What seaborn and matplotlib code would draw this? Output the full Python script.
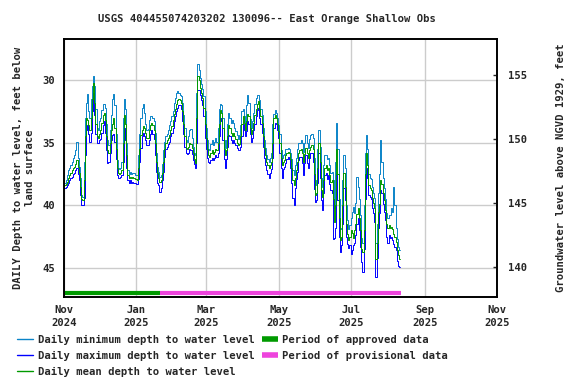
import pandas as pd
import seaborn as sns
import matplotlib.pyplot as plt
import matplotlib.dates as mdates
from matplotlib.lines import Line2D

title = "USGS 404455074203202 130096-- East Orange Shallow Obs"
start = "2024-11-01"

# daily mean depth to water, feet below land surface
mean_depth = [
    38.4, 38.4, 38.3, 38.1, 37.8, 37.6, 37.4, 37.2, 37.0, 36.9,
    36.7, 36.4, 36.9, 37.4, 38.5, 39.5, 39.6, 38.0, 34.5, 33.0,
    33.2, 33.6, 34.0, 33.0, 31.5, 30.2, 31.8, 33.5, 34.5, 34.6,
    34.3, 34.0, 33.4, 32.8, 32.6, 33.2, 34.5, 35.6, 35.8, 35.0,
    34.0, 33.5, 33.0, 33.8, 35.5, 37.0, 37.4, 37.5, 37.4, 37.2,
    35.0, 32.8, 33.5, 36.0, 37.6, 37.8, 37.7, 37.8, 37.7, 37.8,
    37.9, 37.9, 38.0, 37.0, 35.5, 34.4, 34.0, 33.7, 33.8, 34.2,
    34.6, 34.6, 34.0, 33.6, 33.4, 33.6, 34.0, 35.0, 36.5, 37.4,
    37.8, 38.1, 38.0, 37.4, 36.5, 35.5, 35.0, 34.8, 34.6, 34.4,
    34.0, 33.7, 33.2, 32.7, 32.3, 31.9, 31.6, 31.5, 31.6, 31.8,
    32.5, 33.5, 34.5, 35.4, 35.5, 35.3, 35.0, 35.1, 35.4, 35.8,
    36.3, 36.6, 33.0, 29.7, 30.0, 30.6, 31.0, 31.4, 32.2, 33.5,
    34.6, 35.5, 36.0, 36.1, 35.8, 35.6, 35.9, 35.7, 35.5, 35.6,
    35.0, 33.5, 32.4, 32.6, 33.8, 35.5, 36.0, 35.6, 34.5, 33.6,
    33.8, 34.2, 34.5, 34.2, 34.5, 34.7, 35.0, 35.2, 35.1, 34.5,
    33.5, 32.9, 33.4, 34.0, 33.3, 32.7, 32.9, 33.8, 34.3, 34.0,
    33.4, 32.8, 32.3, 31.9, 31.7, 32.3, 32.9, 33.4, 34.5, 35.4,
    36.0, 36.5, 36.8, 37.0, 36.8, 36.5, 35.0, 33.0, 32.8, 33.0,
    33.5, 34.1, 35.0, 36.2, 36.8, 36.5, 36.4, 36.0, 35.8, 35.7,
    35.8, 36.3, 37.0, 38.0, 38.4, 37.8, 37.2, 36.5, 35.8, 35.6,
    35.5, 35.8, 36.5, 35.9, 35.4, 35.8, 36.2, 35.6, 35.3, 35.2,
    35.5, 37.5, 39.2, 39.0, 37.0, 35.0, 36.5, 38.8, 39.3, 38.0,
    37.0, 36.8, 37.2, 37.0, 37.6, 38.1, 38.0, 39.5, 41.3, 40.0,
    35.5, 37.5, 41.0, 42.8, 42.5, 40.0, 37.4, 38.5, 41.5, 42.3,
    42.8, 42.5, 42.0, 42.2, 42.6, 42.0, 41.5, 40.7, 40.2, 41.0,
    42.0, 43.5, 43.7, 42.0, 37.5, 35.8, 36.8, 38.4, 38.6, 38.8,
    39.4, 39.8, 40.2, 44.3, 43.0, 40.5, 39.9, 38.0, 38.3, 39.0,
    39.6, 40.4, 41.5, 41.8, 41.6, 41.8, 41.7, 41.9, 42.3, 42.5,
    42.9, 43.6, 44.0, 44.3,
]

# daily minimum depth (shallowest reading of the day)
min_depth = [
    38.2, 38.2, 38.0, 37.6, 37.2, 37.0, 36.8, 36.5, 36.2, 36.0,
    35.6, 34.9, 36.2, 36.9, 37.8, 39.2, 39.3, 36.5, 33.0, 31.8,
    31.1, 32.5, 33.0, 31.5, 30.5, 29.7, 30.5, 32.3, 33.8, 34.0,
    33.3, 33.0, 32.4, 31.9, 31.9, 32.2, 33.5, 34.8, 35.2, 34.0,
    32.8, 31.5, 31.1, 32.0, 34.3, 36.4, 37.0, 37.1, 37.0, 36.5,
    33.0, 31.5, 32.3, 35.0, 37.2, 37.5, 37.3, 37.5, 37.4, 37.4,
    37.6, 37.6, 37.6, 36.0, 34.3, 33.0, 32.2, 31.9, 32.6, 33.5,
    34.0, 33.9, 33.2, 32.9, 32.9, 33.0, 33.3, 34.2, 35.8, 36.9,
    37.3, 37.7, 37.6, 36.7, 35.6, 34.9, 34.5, 34.3, 34.0, 33.6,
    33.3, 32.9, 32.5, 31.8, 31.4, 31.0, 30.9, 31.0, 31.2, 31.3,
    31.8, 32.8, 33.8, 34.8, 34.9, 34.5, 34.0, 33.9, 34.6, 35.3,
    35.8, 36.0, 31.0, 28.7, 29.2, 29.8, 30.3, 30.7, 31.3, 32.5,
    33.8, 34.8, 35.5, 35.6, 35.1, 34.8, 35.2, 34.9, 34.6, 34.9,
    33.8, 32.3, 31.9, 32.0, 33.0, 34.8, 35.4, 34.8, 33.5, 32.6,
    33.0, 33.4, 33.2, 33.4, 33.8, 34.1, 34.4, 34.7, 34.4, 33.6,
    32.5, 32.3, 32.9, 33.5, 32.0, 31.2, 31.8, 33.1, 33.8, 33.3,
    32.6, 31.9, 31.4, 31.2, 31.2, 31.6, 32.3, 32.8, 33.8, 34.8,
    35.4, 36.0, 36.3, 36.5, 36.2, 35.8, 33.5, 32.7, 32.4, 32.6,
    33.0, 33.6, 34.3, 35.6, 36.2, 36.0, 35.9, 35.5, 35.5, 35.4,
    35.5, 35.8, 36.3, 37.2, 37.6, 36.8, 36.2, 35.5, 35.0, 35.0,
    34.8, 35.0, 35.7, 35.0, 34.4, 35.0, 35.4, 34.7, 34.4, 34.3,
    34.6, 36.2, 38.4, 38.0, 35.5, 34.0, 35.3, 37.8, 38.5, 36.8,
    36.0, 36.0, 36.3, 36.2, 36.8, 37.4, 37.3, 38.0, 40.2, 36.5,
    33.4, 35.5, 39.5, 41.9, 41.8, 38.0, 36.0, 37.0, 40.0, 41.2,
    41.9, 41.6, 41.0, 40.5, 40.1, 40.6, 39.8, 37.7, 38.5, 39.5,
    40.8, 42.6, 43.0, 40.0, 35.8, 34.4, 35.5, 37.5, 37.8, 37.9,
    38.5, 39.0, 39.4, 43.0, 41.5, 39.0, 37.5, 34.8, 36.5, 37.8,
    38.6, 39.5, 40.6, 41.0, 40.8, 40.8, 40.2, 40.5, 38.5, 40.0,
    41.8, 42.7, 43.3, 43.6,
]

# daily maximum depth (deepest reading of the day)
max_depth = [
    38.6, 38.6, 38.5, 38.4, 38.2, 38.0, 37.8, 37.7, 37.5, 37.4,
    37.2, 37.0, 37.5, 38.0, 39.2, 40.0, 40.0, 39.4, 36.0, 34.0,
    33.6, 34.3, 34.9, 34.2, 32.5, 31.0, 32.8, 34.3, 35.0, 35.0,
    34.8, 34.7, 34.2, 33.6, 33.3, 34.2, 35.6, 36.6, 36.5, 35.8,
    34.8, 34.4, 34.3, 34.9, 36.3, 37.6, 37.8, 37.8, 37.7, 37.6,
    36.5, 33.8, 34.8, 37.0, 38.0, 38.2, 38.0, 38.2, 38.1, 38.2,
    38.2, 38.3, 38.3, 37.9, 36.5, 35.4, 34.5, 34.2, 34.5, 34.8,
    35.2, 35.2, 34.8, 34.3, 34.0, 34.3, 34.7, 36.0, 37.3, 38.2,
    38.4, 38.9, 38.6, 38.0, 37.3, 36.1, 35.5, 35.3, 35.1, 34.9,
    34.5, 34.2, 33.8, 33.3, 32.9, 32.5, 32.2, 32.0, 32.0, 32.3,
    33.3, 34.3, 35.3, 35.8, 35.9, 35.8, 35.5, 35.6, 35.9, 36.4,
    36.7, 37.0, 35.0, 30.8, 30.8, 31.2, 31.6, 32.0, 32.9, 34.6,
    35.5, 36.2, 36.5, 36.6, 36.4, 36.2, 36.4, 36.2, 36.0, 36.1,
    35.8, 34.5, 33.0, 33.3, 34.8, 36.3, 37.0, 36.3, 35.3, 34.4,
    34.5, 34.8, 35.0, 34.8, 35.0, 35.2, 35.4, 35.6, 35.6, 35.3,
    34.5, 33.5, 34.0, 34.5, 34.1, 33.3, 33.5, 34.3, 34.9, 34.6,
    34.0, 33.5, 32.9, 32.4, 32.2, 33.0, 33.5, 34.2, 35.3, 36.2,
    36.8, 37.2, 37.5, 37.8, 37.4, 37.1, 36.2, 33.8, 33.4, 33.5,
    34.0, 34.6, 35.8, 37.0, 37.8, 37.1, 36.9, 36.6, 36.3, 36.1,
    36.3, 37.0, 38.2, 39.4, 40.0, 38.6, 37.9, 37.3, 36.4, 36.1,
    36.1, 36.6, 37.6, 36.6, 36.0, 36.6, 37.0, 36.2, 35.8, 35.8,
    36.5, 38.7, 39.7, 39.6, 38.2, 35.8, 37.8, 39.6, 40.4, 39.0,
    37.6, 37.4, 37.9, 37.6, 38.3, 38.8, 39.0, 42.7, 42.6, 41.8,
    37.5, 39.6, 42.5, 43.7, 43.2, 41.5, 38.6, 39.6, 42.5, 43.1,
    43.4, 43.2, 43.9, 43.6, 43.2, 43.0, 42.4, 41.5, 41.0, 42.0,
    43.3, 44.5, 45.3, 43.5, 39.5, 37.0, 37.8, 39.2, 39.3, 39.5,
    40.2, 40.6, 41.3, 45.7, 44.2, 41.8, 40.6, 38.8, 39.0, 39.9,
    40.5, 41.2, 42.5, 43.0, 42.4, 42.6, 42.5, 42.8, 43.1, 43.3,
    43.6, 44.4, 44.8, 44.9,
]

approved_period = ("2024-11-01", "2025-01-21")
provisional_period = ("2025-01-21", "2025-08-12")

month_ticks = ["2024-11-01", "2025-01-01", "2025-03-01", "2025-05-01",
               "2025-07-01", "2025-09-01", "2025-11-01"]
depth_ticks = [30, 35, 40, 45]
level_ticks = [140, 145, 150, 155]

c_min = "#0a84c8"
c_max = "#0000ff"
c_mean = "#009a00"
c_appr = "#009a00"
c_prov = "#ee44dd"

df = pd.DataFrame({
    "date": pd.date_range(start, periods=len(mean_depth), freq="D"),
    "min": min_depth,
    "max": max_depth,
    "mean": mean_depth,
})

sns.set_style("white")
plt.rcParams["font.family"] = ["DejaVu Sans Mono"]
plt.rcParams["font.weight"] = "bold"
plt.rcParams["font.size"] = 7.6

fig = plt.figure(figsize=(5.76, 3.84), dpi=100)
ax = fig.add_axes([0.111, 0.227, 0.752, 0.671])

for col, c in [("min", c_min), ("max", c_max), ("mean", c_mean)]:
    sns.lineplot(data=df, x="date", y=col, color=c, lw=0.7, ax=ax,
                 estimator=None, drawstyle="steps-mid")

# approval status bars along the bottom
bar_y = 47.0
ax.hlines(bar_y, pd.Timestamp(approved_period[0]), pd.Timestamp(approved_period[1]),
          color=c_appr, lw=3)
ax.hlines(bar_y, pd.Timestamp(provisional_period[0]), pd.Timestamp(provisional_period[1]),
          color=c_prov, lw=3)

ax.set_xlim(pd.Timestamp(month_ticks[0]), pd.Timestamp(month_ticks[-1]))
ax.set_ylim(47.3, 26.73)
ax.set_xticks(pd.to_datetime(month_ticks))
ax.xaxis.set_major_formatter(mdates.DateFormatter("%b\n%Y"))
ax.set_yticks(depth_ticks)
ax.grid(True, color="#cccccc", lw=1)
ax.tick_params(axis="both", length=0, pad=6, labelsize=7.6)
for lab in ax.get_xticklabels():
    lab.set_linespacing(1.4)
ax.set_xlabel("")
ax.set_ylabel("DAILY Depth to water level, feet below\nland surface",
              fontsize=7.6, fontweight="bold", labelpad=6)
for s in ax.spines.values():
    s.set_color("black")
    s.set_linewidth(1.2)

ax2 = ax.twinx()
ax2.set_ylim(137.66, 157.8)
ax2.set_yticks(level_ticks)
ax2.tick_params(axis="y", direction="in", length=3, width=1, pad=8, labelsize=7.6)
ax2.set_ylabel("Groundwater level above NGVD 1929, feet",
               fontsize=7.6, fontweight="bold", labelpad=21)
ax2.grid(False)
for s in ax2.spines.values():
    s.set_color("black")
    s.set_linewidth(1.2)

fig.text(0.463, 0.95, title, ha="center", va="center", fontsize=7.6,
         fontweight="bold")

handles = [
    Line2D([], [], color=c_min, lw=1),
    Line2D([], [], color=c_max, lw=1),
    Line2D([], [], color=c_mean, lw=1),
    Line2D([], [], color=c_appr, lw=4, solid_capstyle="butt"),
    Line2D([], [], color=c_prov, lw=4, solid_capstyle="butt"),
]
labels = [
    "Daily minimum depth to water level",
    "Daily maximum depth to water level",
    "Daily mean depth to water level",
    "Period of approved data",
    "Period of provisional data",
]
fig.legend(handles, labels, ncol=2, loc="upper left",
           bbox_to_anchor=(17 / 576, 1 - 335 / 384), frameon=False,
           borderpad=0, borderaxespad=0, handlelength=1.5, handletextpad=0.45,
           columnspacing=0.7, labelspacing=0.55, fontsize=7.6)

fig.savefig("out.png", dpi=100)
